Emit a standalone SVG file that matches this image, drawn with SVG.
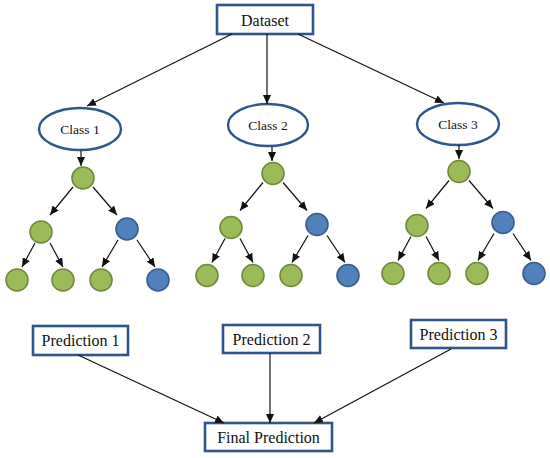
<svg xmlns="http://www.w3.org/2000/svg" width="550" height="458" viewBox="0 0 550 458">
<defs>
<style>
.box{fill:#fff;stroke:#2F5590;stroke-width:2.6}
.ell{fill:#fff;stroke:#2F5590;stroke-width:2.4}
.g{fill:#9BBB59;stroke:#71893F;stroke-width:1.6}
.b{fill:#4F81BD;stroke:#385D8A;stroke-width:1.6}
.t{font-family:"Liberation Serif","Times New Roman",serif;font-size:16px;fill:#111;text-anchor:middle}
.tc{font-family:"Liberation Serif","Times New Roman",serif;font-size:13.5px;fill:#111;text-anchor:middle}
.c line{stroke:#111;stroke-width:1.2;marker-end:url(#ah)}
</style>
<marker id="ah" markerUnits="userSpaceOnUse" markerWidth="9" markerHeight="8" viewBox="0 0 9 8" refX="9" refY="4" orient="auto">
<path d="M0,0 L9,4 L0,8 Z" fill="#111"/>
</marker>
</defs>

<g id="dataset"><rect class="box" x="217" y="5" width="96" height="29"/><text class="t" x="265" y="25.5">Dataset</text></g>

<g id="class1"><ellipse class="ell" cx="80" cy="129" rx="41" ry="21"/><text class="tc" x="80" y="133.5">Class 1</text></g>
<g id="class2"><ellipse class="ell" cx="268" cy="125" rx="40" ry="21"/><text class="tc" x="268" y="129.5">Class 2</text></g>
<g id="class3"><ellipse class="ell" cx="458" cy="124" rx="41" ry="21"/><text class="tc" x="458" y="128.5">Class 3</text></g>

<g id="tree1">
<g id="t1-root"><circle class="g" cx="83" cy="178" r="11"/></g>
<g id="t1-l"><circle class="g" cx="41" cy="232" r="11"/></g>
<g id="t1-r"><circle class="b" cx="127" cy="229" r="11"/></g>
<g id="t1-ll"><circle class="g" cx="17" cy="280" r="11"/></g>
<g id="t1-lr"><circle class="g" cx="63" cy="280" r="11"/></g>
<g id="t1-rl"><circle class="g" cx="101" cy="280" r="11"/></g>
<g id="t1-rr"><circle class="b" cx="158" cy="280" r="11"/></g>
</g>
<g id="tree2" transform="translate(190,-4.5)">
<g id="t2-root"><circle class="g" cx="83" cy="178" r="11"/></g>
<g id="t2-l"><circle class="g" cx="41" cy="232" r="11"/></g>
<g id="t2-r"><circle class="b" cx="127" cy="229" r="11"/></g>
<g id="t2-ll"><circle class="g" cx="17" cy="280" r="11"/></g>
<g id="t2-lr"><circle class="g" cx="63" cy="280" r="11"/></g>
<g id="t2-rl"><circle class="g" cx="101" cy="280" r="11"/></g>
<g id="t2-rr"><circle class="b" cx="158" cy="280" r="11"/></g>
</g>
<g id="tree3" transform="translate(376,-6.5)">
<g id="t3-root"><circle class="g" cx="83" cy="178" r="11"/></g>
<g id="t3-l"><circle class="g" cx="41" cy="232" r="11"/></g>
<g id="t3-r"><circle class="b" cx="127" cy="229" r="11"/></g>
<g id="t3-ll"><circle class="g" cx="17" cy="280" r="11"/></g>
<g id="t3-lr"><circle class="g" cx="63" cy="280" r="11"/></g>
<g id="t3-rl"><circle class="g" cx="101" cy="280" r="11"/></g>
<g id="t3-rr"><circle class="b" cx="158" cy="280" r="11"/></g>
</g>

<g id="pred1"><rect class="box" x="33" y="326" width="95" height="29"/><text class="t" x="80.5" y="346">Prediction 1</text></g>
<g id="pred2"><rect class="box" x="223" y="325" width="97" height="28"/><text class="t" x="271.5" y="344.5">Prediction 2</text></g>
<g id="pred3"><rect class="box" x="411" y="320" width="95" height="28"/><text class="t" x="458.5" y="339.5">Prediction 3</text></g>
<g id="final"><rect class="box" x="205" y="423" width="127" height="28"/><text class="t" x="268.5" y="443">Final Prediction</text></g>

<g id="connectors" class="c">
<line x1="232" y1="34" x2="87" y2="106"/>
<line x1="267" y1="34" x2="267" y2="104"/>
<line x1="298" y1="34" x2="444" y2="103"/>
<line x1="81" y1="151" x2="81" y2="166"/>
<line x1="272" y1="147" x2="272" y2="161"/>
<line x1="459" y1="145" x2="459" y2="159"/>
<g transform="translate(0,0)">
<line x1="73" y1="187" x2="50" y2="215"/>
<line x1="93" y1="187" x2="117" y2="215"/>
<line x1="35" y1="243" x2="22" y2="267"/>
<line x1="50" y1="243" x2="63" y2="267"/>
<line x1="118" y1="240" x2="102" y2="267"/>
<line x1="137" y1="240" x2="155" y2="267"/>
</g>
<g transform="translate(190,-4.5)">
<line x1="73" y1="187" x2="50" y2="215"/>
<line x1="93" y1="187" x2="117" y2="215"/>
<line x1="35" y1="243" x2="22" y2="267"/>
<line x1="50" y1="243" x2="63" y2="267"/>
<line x1="118" y1="240" x2="102" y2="267"/>
<line x1="137" y1="240" x2="155" y2="267"/>
</g>
<g transform="translate(376,-6.5)">
<line x1="73" y1="187" x2="50" y2="215"/>
<line x1="93" y1="187" x2="117" y2="215"/>
<line x1="35" y1="243" x2="22" y2="267"/>
<line x1="50" y1="243" x2="63" y2="267"/>
<line x1="118" y1="240" x2="102" y2="267"/>
<line x1="137" y1="240" x2="155" y2="267"/>
</g>
<line x1="78" y1="355" x2="224" y2="423"/>
<line x1="270" y1="353" x2="270" y2="423"/>
<line x1="451" y1="349" x2="314" y2="423"/>
</g>
</svg>
